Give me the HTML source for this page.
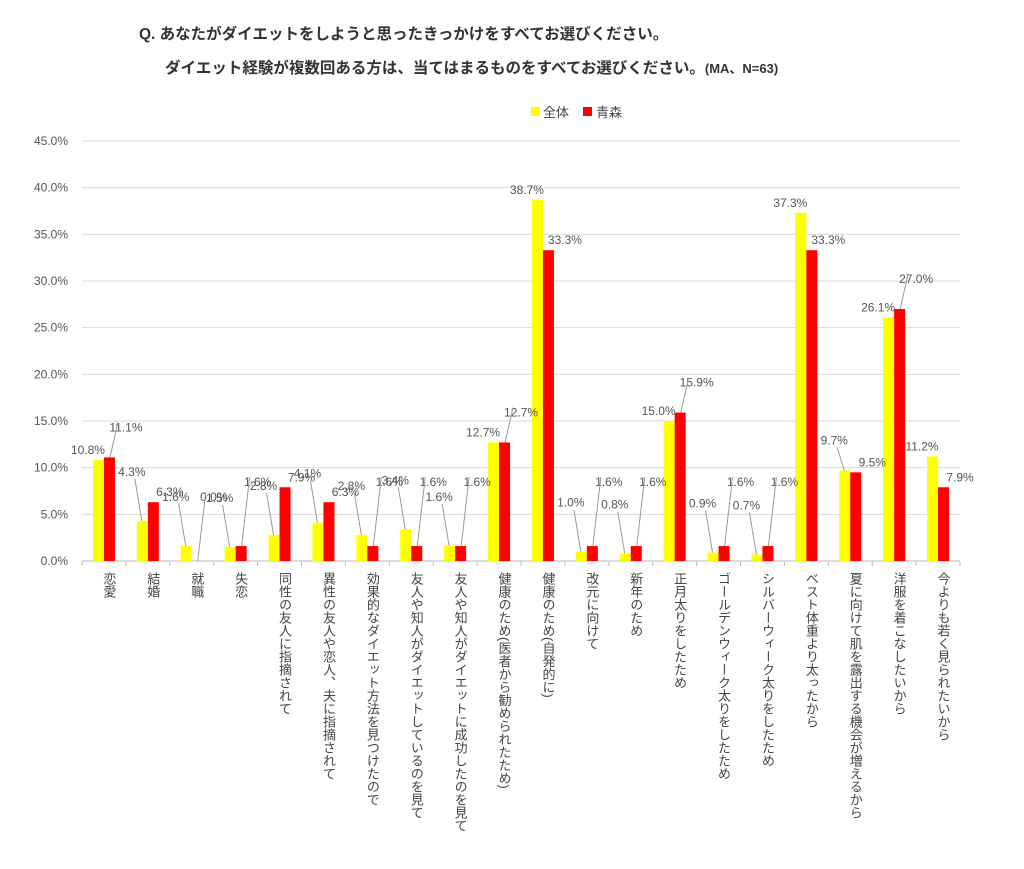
<!DOCTYPE html>
<html><head><meta charset="utf-8"><style>
body{margin:0;background:#fff;font-family:"Liberation Sans","Noto Sans CJK JP",sans-serif;}
svg text{font-family:"Liberation Sans","Noto Sans CJK JP",sans-serif;}
</style></head><body>
<svg id="chart" width="1024" height="864" xmlns="http://www.w3.org/2000/svg">
<text x="139" y="39" font-size="15.5" font-weight="bold" fill="#333">Q. あなたがダイエットをしようと思ったきっかけをすべてお選びください。</text>
<text x="165" y="73" font-size="15.5" font-weight="bold" fill="#333">ダイエット経験が複数回ある方は、当てはまるものをすべてお選びください。<tspan font-size="13">(MA、N=63)</tspan></text>
<g>
<rect x="531" y="107" width="9" height="9" fill="#ffff00"/>
<text x="543" y="117" font-size="13" fill="#444">全体</text>
<rect x="583" y="107" width="9" height="9" fill="#ff0000"/>
<text x="596" y="117" font-size="13" fill="#444">青森</text>
</g>
<g id="grid"></g><g id="bars"></g><g id="labels"></g><g id="cats"></g>
</svg>
<script>
const categories=["恋愛","結婚","就職","失恋","同性の友人に指摘されて","異性の友人や恋人、夫に指摘されて","効果的なダイエット方法を見つけたので","友人や知人がダイエットしているのを見て","友人や知人がダイエットに成功したのを見て","健康のため(医者から勧められたため)","健康のため(自発的に)","改元に向けて","新年のため","正月太りをしたため","ゴールデンウィーク太りをしたため","シルバーウィーク太りをしたため","ベスト体重より太ったから","夏に向けて肌を露出する機会が増えるから","洋服を着こなしたいから","今よりも若く見られたいから"];
const allValues=[10.8,4.3,1.6,1.5,2.8,4.1,2.8,3.4,1.6,12.7,38.7,1.0,0.8,15.0,0.9,0.7,37.3,9.7,26.1,11.2];
const aomoriValues=[11.1,6.3,0.0,1.6,7.9,6.3,1.6,1.6,1.6,12.7,33.3,1.6,1.6,15.9,1.6,1.6,33.3,9.5,27.0,7.9];
const yTicks=[0,5,10,15,20,25,30,35,40,45];
const NS="http://www.w3.org/2000/svg";
const x0=82,x1=960,yBase=561,yTop=141,yMax=45;
const bw=(x1-x0)/categories.length;
const y=v=>yBase-(v/yMax)*(yBase-yTop);
function mk(tag,attrs,parent,txt){const e=document.createElementNS(NS,tag);for(const k in attrs)e.setAttribute(k,attrs[k]);if(txt!==undefined)e.textContent=txt;parent.appendChild(e);return e;}
const grid=document.getElementById('grid'),bars=document.getElementById('bars'),labels=document.getElementById('labels'),cats=document.getElementById('cats');
yTicks.forEach(t=>{
 const l=mk('line',{x1:x0,x2:x1,y1:y(t),y2:y(t),stroke:t===0?'#bbb':'#d9d9d9','stroke-width':1},grid);
 
 
 const tx=mk('text',{x:68,y:y(t)+4,'font-size':12,'text-anchor':'end',fill:'#555'},grid,t.toFixed(1)+'%');
 
 
});
for(let i=0;i<=categories.length;i++){
 const t=mk('line',{x1:x0+i*bw,x2:x0+i*bw,y1:yBase,y2:yBase+5,stroke:'#bbb'},grid);
 
 
}
function label(xc,v,dx,parent){
 const top=y(v);
 const ly=Math.min(top-10,y(v)-10);
 let tyy=top-8;
 const tx=mk('text',{x:xc+dx,y:tyy,'font-size':12,'text-anchor':'middle',fill:'#555'},parent,v.toFixed(1)+'%');
 
 
}
categories.forEach((c,i)=>{
 const cx=x0+i*bw+bw/2;
 const a=allValues[i],b=aomoriValues[i];
 const r1=mk('rect',{x:cx-11,y:y(a),width:11,height:yBase-y(a),fill:'#ffff00'},bars);
 
 
 const r2=mk('rect',{x:cx,y:y(b),width:11,height:yBase-y(b),fill:'#ff0000'},bars);
 
 
 // labels: stagger so they don't overlap
 let ya=y(a)-6,yb=y(b)-6;
 let ra=ya, rb=yb;
 if(Math.abs(ra-rb)<16){ if(b>=a){rb=Math.min(rb,ra)-20;} else {ra=Math.min(ra,rb)-20;} }
 if(a<5){ra=Math.min(ra,y(a)-45);} if(b<5){rb=Math.min(rb,y(b)-60);}
 const la=mk('text',{x:cx-16,y:ra,'font-size':12,'text-anchor':'middle',fill:'#555'},labels,a.toFixed(1)+'%');
 
 
 const lb=mk('text',{x:cx+22,y:rb,'font-size':12,'text-anchor':'middle',fill:'#555'},labels,b.toFixed(1)+'%');
 
 
 if(y(a)-ra>20){const ln=mk('line',{x1:cx-13,y1:ra+3,x2:cx-6,y2:y(a),stroke:'#999'},labels);}
 if(y(b)-rb>20){const ln=mk('line',{x1:cx+14,y1:rb-9,x2:cx+6,y2:y(b),stroke:'#999'},labels);}
 const ct=mk('text',{x:cx+5,y:572,'font-size':13,fill:'#444','writing-mode':'vertical-rl','glyph-orientation-vertical':0},cats,c);
 
 
});
</script>
</body></html>
